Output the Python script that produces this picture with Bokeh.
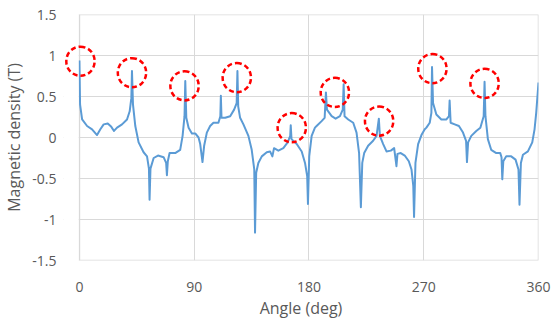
from bokeh.plotting import figure
from bokeh.models import FixedTicker, Label, BoxAnnotation
from bokeh.embed import file_html
from bokeh.resources import INLINE

angle = [0, 0.5, 2.1, 6, 9.9, 13.8, 16.4, 19, 22.2, 25, 27.1, 29.5, 33.4, 37.3, 39.4, 40.7, 41.2, 42, 43.8, 46.4,
         50.3, 53, 54.5, 55, 55.7, 58.2, 61.6, 66, 68, 68.6, 69.3, 70.7, 75.1, 79, 80.9, 82.4, 83, 83.8, 85.6, 88.2,
         90.8, 93.4, 94.7, 96.5, 97.8, 99.9, 102.5, 105.1, 109, 110.5, 110.9, 111.4, 114.3, 118.2, 121.3, 123.3, 123.9,
         124.5, 126, 128.6, 132.5, 135.1, 137.1, 137.7, 138.6, 140.3, 143, 146.9, 149.5, 151.3, 152.6, 156, 159.9,
         163.3, 165.3, 165.7, 166.3, 170.4, 174.3, 176.9, 178.6, 179.2, 180.2, 182.1, 184.7, 186, 189.9, 192.3, 193.3,
         194.1, 197.8, 200.9, 204.3, 206.5, 207.2, 207.9, 210.8, 214.7, 217.3, 219.3, 220.7, 221.8, 223.3, 226.4,
         230.3, 233, 234.8, 235.6, 238.2, 240.8, 244.2, 246.8, 248.6, 249.4, 252, 255.1, 258.3, 260.4, 261.8, 262.4,
         263.5, 265.6, 268.2, 270.8, 272.1, 274.7, 276, 276.5, 277.3, 279.9, 283.8, 287.8, 289.8, 290.3, 291.1, 294.3,
         297.6, 300.8, 303.2, 303.9, 304.8, 307.3, 311.2, 314.4, 317, 317.7, 318.4, 320.3, 322.9, 326.9, 330, 331,
         331.6, 332.4, 334.7, 338.6, 342, 344.3, 345.1, 346.2, 347.8, 351.7, 355.1, 356.9, 358.2, 360]
bdens = [0.94, 0.40, 0.22, 0.14, 0.10, 0.03, 0.10, 0.16, 0.17, 0.13, 0.08, 0.12, 0.16, 0.22, 0.32, 0.48, 0.81, 0.40,
         0.14, -0.06, -0.18, -0.23, -0.38, -0.76, -0.38, -0.25, -0.22, -0.24, -0.31, -0.46, -0.29, -0.19, -0.19, -0.15,
         0.02, 0.26, 0.69, 0.24, 0.12, 0.05, 0.05, 0.0, -0.08, -0.30, -0.10, 0.06, 0.14, 0.18, 0.18, 0.26, 0.51, 0.24,
         0.24, 0.26, 0.34, 0.42, 0.81, 0.38, 0.24, 0.16, 0.02, -0.15, -0.39, -1.16, -0.43, -0.31, -0.23, -0.18, -0.17,
         -0.23, -0.13, -0.16, -0.13, -0.06, 0.02, 0.15, -0.02, -0.08, -0.17, -0.31, -0.47, -0.81, -0.23, 0.02, 0.12,
         0.14, 0.20, 0.24, 0.55, 0.34, 0.26, 0.23, 0.26, 0.34, 0.65, 0.26, 0.22, 0.18, 0.06, -0.19, -0.85, -0.31, -0.19,
         -0.10, -0.04, 0.02, 0.23, 0.02, -0.08, -0.17, -0.16, -0.13, -0.35, -0.20, -0.19, -0.22, -0.29, -0.39, -0.59,
         -0.97, -0.31, -0.08, 0.03, 0.10, 0.12, 0.18, 0.30, 0.86, 0.42, 0.28, 0.22, 0.22, 0.26, 0.45, 0.18, 0.16, 0.14,
         0.06, -0.04, -0.30, -0.06, 0.02, 0.08, 0.12, 0.26, 0.68, 0.26, -0.02, -0.15, -0.19, -0.19, -0.24, -0.51,
         -0.29, -0.23, -0.23, -0.27, -0.39, -0.82, -0.31, -0.21, -0.17, -0.06, 0.10, 0.30, 0.67]

# highlighted peaks (red dashed circles)
circle_x = [0.8, 41.2, 82.4, 123.4, 166.5, 200.3, 235.0, 276.8, 317.7]
circle_y = [0.93, 0.79, 0.63, 0.73, 0.12, 0.55, 0.20, 0.84, 0.66]

x_ticks = [0, 90, 180, 270, 360]
y_ticks = [-1.5, -1, -0.5, 0, 0.5, 1, 1.5]

FONT = "Open Sans"
GRID = "#d9d9d9"
TXT = "#595959"

# the frame reaches a little left of 0 so that the first circle is not cut;
# that strip is masked white so the chart itself starts at 0
X_PAD = -12.5

p = figure(width=560, height=321, output_backend="svg", toolbar_location=None,
           x_range=(X_PAD, 360), y_range=(-1.5, 1.5),
           min_border_left=63, min_border_right=22, min_border_top=14, min_border_bottom=59)
p.background_fill_color = "white"
p.border_fill_color = "white"
p.outline_line_color = None

p.line(angle, bdens, line_color="#5B9BD5", line_width=2, line_join="round")

p.add_layout(BoxAnnotation(right=-0.6, fill_color="white", fill_alpha=1.0, line_color=None))
# plot-area border
p.add_layout(BoxAnnotation(left=x_ticks[0], right=x_ticks[-1], bottom=y_ticks[0], top=y_ticks[-1],
                           fill_alpha=0, line_color=GRID, line_alpha=1.0, line_width=1.5, level="underlay"))

# dashed circles drawn as round label boxes
for cx, cy in zip(circle_x, circle_y):
    p.add_layout(Label(x=cx, y=cy, text=" ", anchor="center",
                       text_font_size="1px", padding=14, border_radius=15,
                       border_line_color="#FF0000", border_line_width=2.5,
                       border_line_dash="5 3", background_fill_color=None))

p.xaxis.ticker = FixedTicker(ticks=x_ticks)
p.yaxis.ticker = FixedTicker(ticks=y_ticks)
p.yaxis.major_label_overrides = {-1.5: "-1.5", -1: "-1", -0.5: "-0.5", 0: "0", 0.5: "0.5", 1: "1", 1.5: "1.5"}

for ax in (p.xaxis, p.yaxis):
    ax.axis_line_color = None
    ax.major_tick_line_color = None
    ax.minor_tick_line_color = None
    ax.major_label_text_font = FONT
    ax.major_label_text_font_size = "14px"
    ax.major_label_text_color = TXT
    ax.axis_label_text_font = FONT
    ax.axis_label_text_font_size = "16px"
    ax.axis_label_text_color = TXT
    ax.axis_label_text_font_style = "normal"

p.xaxis.axis_label = "Angle (deg)"
p.yaxis.axis_label = "Magnetic density (T)"
p.xaxis.major_label_standoff = 15
p.xaxis.axis_label_standoff = 2
p.yaxis.major_label_standoff = 1
p.yaxis.axis_label_standoff = 4

p.xgrid.grid_line_color = GRID
p.ygrid.grid_line_color = GRID
p.xgrid.ticker = FixedTicker(ticks=x_ticks)
p.ygrid.ticker = FixedTicker(ticks=y_ticks)

open("out.html", "w").write(file_html(p, INLINE))
